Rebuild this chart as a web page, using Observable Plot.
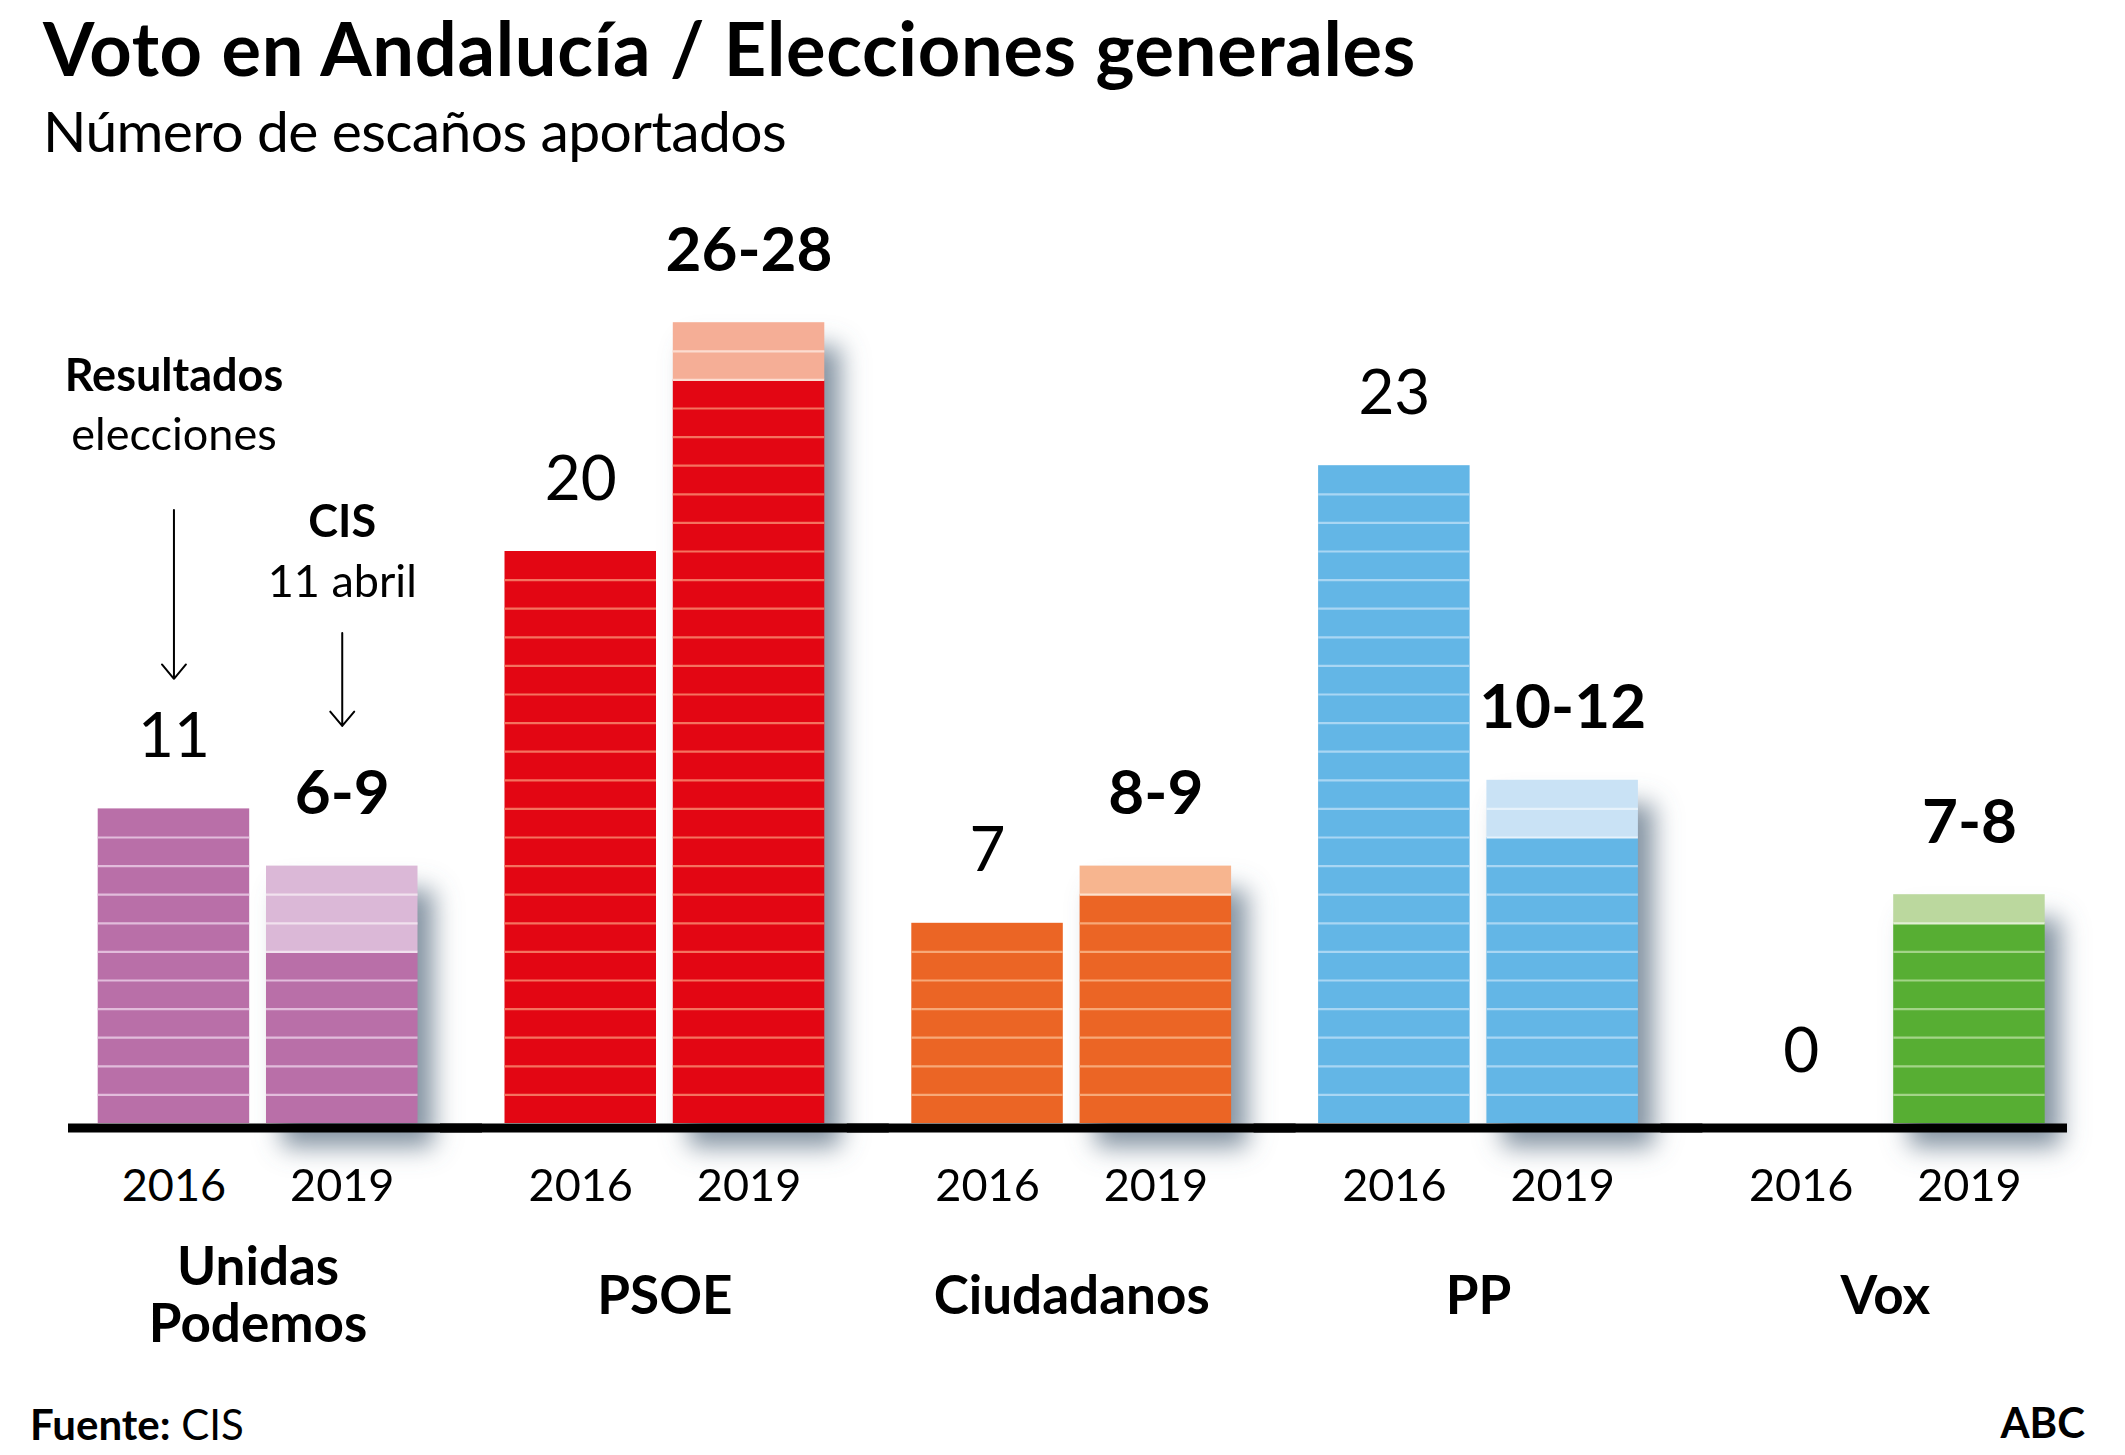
<!DOCTYPE html>
<html>
<head>
<meta charset="utf-8">
<script src="https://cdn.jsdelivr.net/npm/d3@7"></script>
<script src="https://cdn.jsdelivr.net/npm/@observablehq/plot@0.6"></script>
<style>
  html, body { margin: 0; padding: 0; background: #fff; }
  body { width: 2125px; height: 1455px; position: relative; overflow: hidden; font-family: Lato, "Open Sans", sans-serif; color: #000; }
  .txt { position: absolute; white-space: nowrap; line-height: 1.2; }
  #title { left: 43px; top: 4px; font-size: 74px; font-weight: 700; }
  #subtitle { left: 43px; top: 95.7px; font-size: 57px; font-weight: 400; }
  #source { left: 30px; top: 1398.5px; font-size: 42px; }
  #brand { right: 40px; top: 1396.5px; font-size: 42px; font-weight: 700; }
  #chart { position: absolute; left: 0; top: 170px; }
</style>
</head>
<body>
<div id="title" class="txt">Voto en Andalucía / Elecciones generales</div>
<div id="subtitle" class="txt">Número de escaños aportados</div>
<div id="chart"></div>
<div id="source" class="txt"><b>Fuente:</b> CIS</div>
<div id="brand" class="txt">ABC</div>
<script>
// ---- data ----
const parties = ["Unidas Podemos", "PSOE", "Ciudadanos", "PP", "Vox"];
const partyLabels = ["Unidas\nPodemos", "PSOE", "Ciudadanos", "PP", "Vox"];
const years = ["2016", "2019"];
const seats2016 = [11, 20, 7, 23, 0];          // resultados elecciones 2016
const cisLow2019 = [6, 26, 8, 10, 7];          // CIS 11 abril, mínimo
const cisHigh2019 = [9, 28, 9, 12, 8];         // CIS 11 abril, máximo

// ---- styles ----
const darkColors   = ["#b96fa8", "#e30613", "#eb6525", "#63b6e6", "#57ae33"];
const lightColors  = ["#dbb8d7", "#f5ae96", "#f7b58f", "#c9e2f5", "#bbd89e"];
const stripeDark   = ["#e2bcdb", "#f4725f", "#f7a877", "#a9d6f3", "#a3d488"];
const stripeLight  = ["#f1e1ee", "#fcdcd0", "#fde0cc", "#e6f2fb", "#e2efd3"];
const shadowColor  = "#64788b";

// annotations (in seat units of the y scale)
const annotations = [
  {party: "Unidas Podemos", year: "2016", head: "Resultados", sub: "elecciones", headY: 25.6, subY: 23.55, from: 21.45, to: 15.55},
  {party: "Unidas Podemos", year: "2019", head: "CIS", sub: "11 abril", headY: 20.5, subY: 18.4, from: 17.15, to: 13.9}
];

// ---- derived tables ----
const bars = [], stripes = [], labels = [], shadows = [];
parties.forEach((p, i) => {
  bars.push({party: p, year: "2016", y1: 0, y2: seats2016[i], fill: darkColors[i]});
  bars.push({party: p, year: "2019", y1: 0, y2: cisLow2019[i], fill: darkColors[i]});
  bars.push({party: p, year: "2019", y1: cisLow2019[i], y2: cisHigh2019[i], fill: lightColors[i]});
  for (let k = 1; k < seats2016[i]; k++) stripes.push({party: p, year: "2016", k, stroke: stripeDark[i]});
  for (let k = 1; k < cisHigh2019[i]; k++) stripes.push({party: p, year: "2019", k, stroke: k >= cisLow2019[i] ? stripeLight[i] : stripeDark[i]});
  labels.push({party: p, year: "2016", top: seats2016[i], text: String(seats2016[i])});
  labels.push({party: p, year: "2019", top: cisHigh2019[i], text: `${cisLow2019[i]}-${cisHigh2019[i]}`});
  shadows.push({party: p, year: "2019", top: cisHigh2019[i]});
});
const groups = parties.map((p, i) => ({party: p, label: partyLabels[i]}));
const yearRows = parties.flatMap(p => years.map(y => ({party: p, year: y})));

const font = "Lato";
const chart = Plot.plot({
  width: 2125,
  height: 1210,
  marginTop: 95,
  marginBottom: 257,
  marginLeft: 97.7,
  marginRight: 80.3,
  fx: {domain: parties, paddingInner: 0.2139, paddingOuter: 0, round: false, axis: null},
  x: {domain: years, paddingInner: 0.0998, paddingOuter: 0, round: false, axis: null},
  y: {domain: [0, 30], axis: null},
  color: {type: "identity"},
  style: {fontFamily: font, background: "transparent", overflow: "visible"},
  marks: [
    // drop shadow of the CIS bars (blurred below)
    Plot.barY(shadows, {fx: "party", x: "year", y: "top", fill: shadowColor, fillOpacity: 0.8, dx: 16, dy: 24, ariaDescription: "shadow"}),
    // bars
    Plot.barY(bars, {fx: "party", x: "year", y1: "y1", y2: "y2", fill: "fill"}),
    // seat stripes
    Plot.tickY(stripes, {fx: "party", x: "year", y: "k", stroke: "stroke", strokeWidth: 2.2}),
    // baseline (one segment per group, overlapping into the gaps)
    Plot.ruleY(groups.slice(0, 1), {fx: "party", y: 0, stroke: "#000", strokeWidth: 9, strokeLinecap: "square", dy: 4.5, insetLeft: -25.2, insetRight: -60}),
    Plot.ruleY(groups.slice(1, 4), {fx: "party", y: 0, stroke: "#000", strokeWidth: 9, strokeLinecap: "square", dy: 4.5, insetLeft: -60, insetRight: -60}),
    Plot.ruleY(groups.slice(4), {fx: "party", y: 0, stroke: "#000", strokeWidth: 9, strokeLinecap: "square", dy: 4.5, insetLeft: -60, insetRight: -17.8}),
    // value labels
    Plot.text(labels.filter(d => d.year === "2016"), {fx: "party", x: "year", y: "top", text: "text", fontSize: 62, fontWeight: "normal", fontFamily: font, lineAnchor: "bottom", dy: -52, fill: "#000"}),
    Plot.text(labels.filter(d => d.year === "2019"), {fx: "party", x: "year", y: "top", text: "text", fontSize: 62, fontWeight: "bold", fontFamily: font, lineAnchor: "bottom", dy: -52, fill: "#000"}),
    // year labels
    Plot.text(yearRows, {fx: "party", x: "year", y: 0, text: "year", fontSize: 45, fontFamily: font, lineAnchor: "bottom", dy: 77, fill: "#000"}),
    // party names
    Plot.text(groups, {fx: "party", y: 0, text: "label", fontSize: 53, fontWeight: "bold", fontFamily: font, lineAnchor: "middle", lineHeight: 1.08, dy: 172, fill: "#000"}),
    // annotations
    Plot.text(annotations, {fx: "party", x: "year", y: "headY", text: "head", fontSize: 45, fontWeight: "bold", fontFamily: font, lineAnchor: "bottom", fill: "#000"}),
    Plot.text(annotations, {fx: "party", x: "year", y: "subY", text: "sub", fontSize: 45, fontWeight: "normal", fontFamily: font, lineAnchor: "bottom", fill: "#000"}),
    Plot.arrow(annotations, {fx: "party", x: "year", y1: "from", y2: "to", stroke: "#000", strokeWidth: 2, headLength: 14, headAngle: 80})
  ]
});

const svg = d3.select(chart);
svg.insert("defs", ":first-child").html(
  '<filter id="barShadow" x="-60%" y="-60%" width="220%" height="220%"><feGaussianBlur stdDeviation="9"/></filter>'
);
svg.selectAll('g[aria-description="shadow"]').attr("filter", "url(#barShadow)");
svg.selectAll(`g[fill="${shadowColor}"]`).attr("filter", "url(#barShadow)");
document.getElementById("chart").appendChild(chart);

// fit title widths to the reference layout
function fitWidth(id, target) {
  const el = document.getElementById(id);
  const n = el.textContent.length;
  const w = el.getBoundingClientRect().width;
  el.style.letterSpacing = ((target - w) / n) + "px";
}
fitWidth("title", 1373);
fitWidth("subtitle", 743);
</script>
</body>
</html>
